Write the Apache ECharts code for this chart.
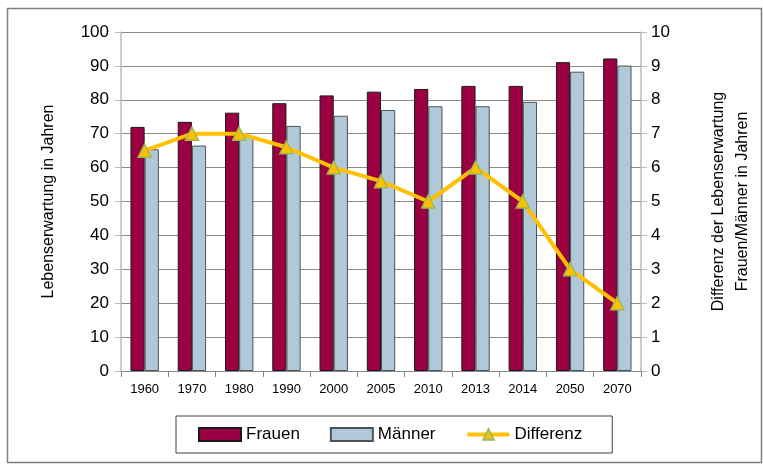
<!DOCTYPE html>
<html>
<head>
<meta charset="utf-8">
<script src="https://cdn.jsdelivr.net/npm/echarts@6/dist/echarts.min.js"></script>
<style>
  html, body { margin: 0; padding: 0; background: #fff; }
  #chart { width: 763px; height: 464px; }
</style>
</head>
<body>
<div id="chart"></div>
<script>
// Jahre
var years = ['1960', '1970', '1980', '1990', '2000', '2005', '2010', '2013', '2014', '2050', '2070'];
// Lebenserwartung
var frauen = [72.0, 73.5, 76.2, 79.0, 81.3, 82.4, 83.2, 84.1, 84.1, 91.1, 92.2];
var maenner = [65.4, 66.5, 69.2, 72.3, 75.3, 77.0, 78.1, 78.1, 79.4, 88.3, 90.1];
// Differenz Frauen/Männer
var differenz = [6.5, 7, 7, 6.6, 6, 5.6, 5, 6, 5, 3, 2];

var fontFam = 'Liberation Sans, Arial, sans-serif';
var myChart = echarts.init(document.getElementById('chart'));

var option = {
    backgroundColor: '#fff',
    animation: false,
    textStyle: { fontFamily: fontFam, color: '#000' },
    graphic: [{
        type: 'rect',
        shape: { x: 7.5, y: 8.5, width: 754, height: 454 },
        style: { fill: 'none', stroke: '#7f7f7f', lineWidth: 1.5 },
        silent: true
    }],
    grid: { left: 121, right: 113, top: 32, bottom: 93 },
    legend: {
        left: 176,
        top: 416,
        padding: [10, 30, 10, 22],
        borderColor: '#404040',
        borderWidth: 1,
        itemWidth: 42,
        itemHeight: 13,
        itemGap: 30,
        textStyle: { fontSize: 17, fontFamily: fontFam, color: '#000' },
        data: [
            { name: 'Frauen', icon: 'rect' },
            { name: 'Männer', icon: 'rect' },
            { name: 'Differenz', lineStyle: { width: 4 } }
        ]
    },
    xAxis: {
        type: 'category',
        data: years,
        axisLine: { lineStyle: { color: '#888', width: 1 } },
        axisTick: { show: true, length: 6, lineStyle: { color: '#888' } },
        axisLabel: { fontSize: 13, color: '#000', margin: 12, interval: 0 },
        splitLine: { show: false }
    },
    yAxis: [{
        type: 'value',
        min: 0,
        max: 100,
        interval: 10,
        name: 'Lebenserwartung in Jahren',
        nameLocation: 'middle',
        nameGap: 64,
        nameTextStyle: { fontSize: 16, color: '#000' },
        axisLine: { show: true, lineStyle: { color: '#bbb', width: 1.5 } },
        axisTick: { show: true, length: 6, lineStyle: { color: '#bbb' } },
        axisLabel: { fontSize: 17, color: '#000', margin: 12 },
        splitLine: { lineStyle: { color: '#8c8c8c', width: 1 } }
    }, {
        type: 'value',
        min: 0,
        max: 10,
        interval: 1,
        position: 'right',
        name: 'Differenz der Lebenserwartung\nFrauen/Männer in Jahren',
        nameLocation: 'middle',
        nameGap: 66,
        nameRotate: 90,
        nameTextStyle: { fontSize: 16, color: '#000', lineHeight: 24 },
        axisLine: { show: true, lineStyle: { color: '#bbb', width: 1.5 } },
        axisTick: { show: true, length: 6, lineStyle: { color: '#bbb' } },
        axisLabel: { fontSize: 17, color: '#000', margin: 10 },
        splitLine: { show: false }
    }],
    series: [{
        name: 'Frauen',
        type: 'bar',
        data: frauen,
        barGap: '0%',
        barCategoryGap: '40%',
        itemStyle: { color: '#9b0042', borderColor: '#1a1a1a', borderWidth: 1 }
    }, {
        name: 'Männer',
        type: 'bar',
        data: maenner,
        itemStyle: { color: '#b0c8d8', borderColor: '#4d5358', borderWidth: 1 }
    }, {
        name: 'Differenz',
        type: 'line',
        yAxisIndex: 1,
        data: differenz,
        symbol: 'triangle',
        symbolSize: 13,
        lineStyle: { color: '#ffc000', width: 4 },
        itemStyle: { color: '#ffc000', borderColor: '#9bbb59', borderWidth: 1.5 }
    }]
};

myChart.setOption(option);
</script>
</body>
</html>
